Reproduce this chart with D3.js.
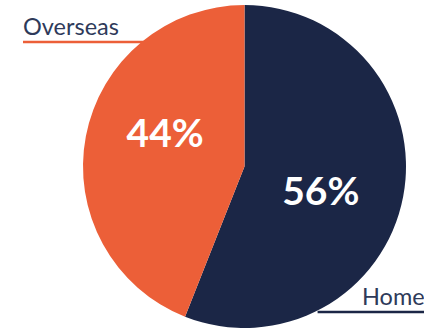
<!DOCTYPE html>
<html>
<head>
<meta charset="utf-8">
<script src="https://cdn.jsdelivr.net/npm/d3@7"></script>
<style>
  body { margin: 0; background: #fff; }
  svg { display: block; }
</style>
</head>
<body>
<div id="chart"></div>
<script>
var categories = ["Home", "Overseas"];
var shares = [56, 44];
var sliceColors = ["#1b2646", "#ec5f38"];

var width = 424, height = 332;
var cx = 244.5, cy = 166.5, radius = 161.5;

var svg = d3.select("#chart").append("svg")
    .attr("width", width)
    .attr("height", height);

var g = svg.append("g").attr("transform", "translate(" + cx + "," + cy + ")");

var data = categories.map(function(c, i) { return {name: c, value: shares[i], color: sliceColors[i]}; });

var pie = d3.pie().sort(null).value(function(d) { return d.value; });
var arcs = pie(data);

var arc = d3.arc().innerRadius(0).outerRadius(radius);

g.selectAll("path.slice")
  .data(arcs)
  .enter().append("path")
    .attr("class", "slice")
    .attr("d", arc)
    .attr("fill", function(d) { return d.data.color; });

// percentage labels inside the slices
var labelNudge = {Home: [-3, 9], Overseas: [0, -18]};
g.selectAll("text.pct")
  .data(arcs)
  .enter().append("text")
    .attr("class", "pct")
    .attr("transform", function(d) {
      var c = arc.centroid(d), n = labelNudge[d.data.name];
      return "translate(" + (c[0] + n[0]) + "," + (c[1] + n[1]) + ")";
    })
    .attr("text-anchor", "middle")
    .attr("dy", "0.36em")
    .attr("fill", "#fff")
    .style("font-family", "Lato, 'Open Sans', sans-serif")
    .style("font-weight", 700)
    .style("font-size", "39px")
    .text(function(d) { return d.data.value + "%"; });

// leader lines + category names
var leaders = {
  Overseas: {y: 42 - cy, x0: 23 - cx, textX: 23 - cx, side: -1},
  Home: {y: 312 - cy, x0: width - cx, textX: 362 - cx, side: 1}
};

arcs.forEach(function(d) {
  var L = leaders[d.data.name];
  var edgeX = L.side * Math.sqrt(radius * radius - L.y * L.y);
  g.append("line")
    .attr("x1", L.x0).attr("x2", edgeX + (L.side > 0 ? 3 : 2))
    .attr("y1", L.y).attr("y2", L.y)
    .attr("stroke", d.data.color)
    .attr("stroke-width", 2.4);
  g.append("text")
    .attr("x", L.textX)
    .attr("y", L.y - 7)
    .attr("fill", "#2e3a5a")
    .style("font-family", "Lato, 'Open Sans', sans-serif")
    .style("font-size", "23.5px")
    .text(d.data.name);
});
</script>
</body>
</html>
